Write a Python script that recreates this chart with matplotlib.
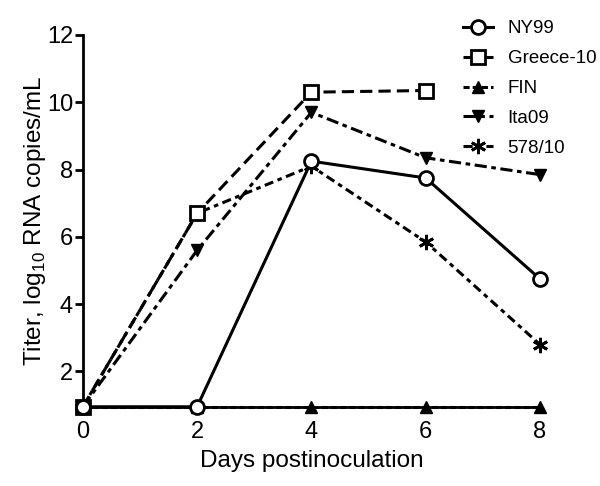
import numpy as np
import matplotlib.pyplot as plt

plt.rcParams['font.family'] = ['Liberation Sans', 'DejaVu Sans']
plt.rcParams['mathtext.fontset'] = 'custom'
plt.rcParams['mathtext.rm'] = 'Liberation Sans'

days = [0, 2, 4, 6, 8]
ny99 = [0.95, 0.95, 8.25, 7.75, 4.75]
greece10 = [0.95, 6.7, 10.3, 10.35]
fin = [0.95, 0.95, 0.95, 0.95, 0.95]
ita09 = [0.95, 5.6, 9.7, 8.35, 7.85]
s578 = [0.95, 6.7, 8.1, 5.85, 2.8]

fig = plt.figure(figsize=(6, 4.86), dpi=100)
ax = fig.add_axes([0.138, 0.163, 0.762, 0.765])

lw = 2.2
ax.plot(days, ny99, color='black', lw=lw, ls='-', marker='o', ms=10,
        mfc='white', mew=2, label='NY99', clip_on=False, zorder=5)
ax.plot(days[:4], greece10, color='black', lw=lw, ls=(0, (4, 2)), marker='s', ms=10,
        mfc='white', mew=2, label='Greece-10', clip_on=False, zorder=4)
ax.plot(days, fin, color='black', lw=lw, ls=(0, (2, 1)), marker='^', ms=9,
        label='FIN', clip_on=False, zorder=3)
ax.plot(days, ita09, color='black', lw=lw, ls=(0, (4, 1.5, 1.5, 1.5)), marker='v', ms=9,
        label='Ita09', clip_on=False, zorder=3)
ax.plot(days, s578, color='black', lw=lw, ls=(0, (3, 1.5, 1.5, 1.5)), marker=(6, 2, 0), ms=11,
        mew=2, label='578/10', clip_on=False, zorder=3)

ax.set_xlim(0, 8)
ax.set_ylim(0.95, 12)
ax.set_xticks(days)
ax.set_yticks([2, 4, 6, 8, 10, 12])

ax.spines['top'].set_visible(False)
ax.spines['right'].set_visible(False)
ax.spines['left'].set_linewidth(2)
ax.spines['bottom'].set_linewidth(2)
ax.tick_params(axis='y', length=6, width=2, labelsize=17, pad=1)
ax.tick_params(axis='x', length=0, labelsize=17, pad=10)

ax.set_xlabel('Days postinoculation', fontsize=17.5, labelpad=5)
ax.set_ylabel('Titer, log$_{10}$ RNA copies/mL', fontsize=17.5, labelpad=-1)

ax.legend(loc='upper right', bbox_to_anchor=(1.16, 1.085), frameon=False, fontsize=13.5,
          handlelength=1.6, handletextpad=0.8, labelspacing=0.68)

plt.savefig('out.png', dpi=100)
